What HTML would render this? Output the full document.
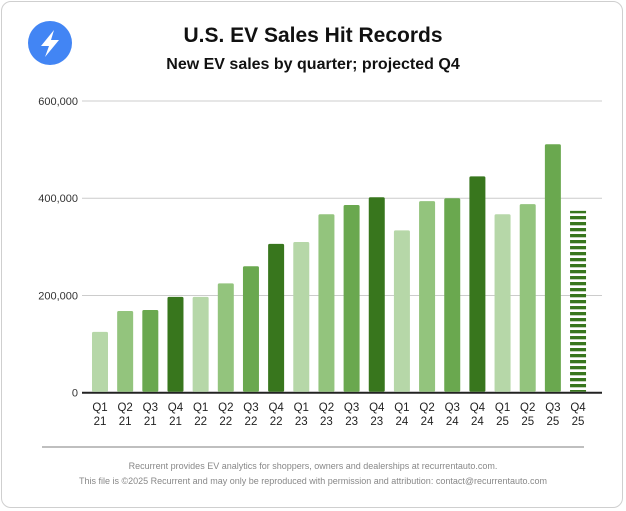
<!DOCTYPE html>
<html><head><meta charset="utf-8"><style>
body{margin:0;background:#fff;font-family:"Liberation Sans",sans-serif}
#card{position:absolute;left:1px;top:1px;width:622px;height:507px;border:1px solid #cfcfcf;border-radius:10px;box-sizing:border-box}
</style></head><body>
<div id="card"></div>
<svg id="chart" width="626" height="511" style="position:absolute;left:0;top:0">
<defs><pattern id="stripes" width="6" height="6" patternUnits="userSpaceOnUse"><rect width="6" height="6" fill="#fff"/><rect width="6" height="3.3" fill="#38761d"/></pattern></defs>
<circle cx="50" cy="43" r="22" fill="#4285f4"/>
<path d="M54 30 L41 46 L49 46 L45 57 L59 40 L51 40 Z" fill="#fff"/>
<text x="313" y="42" text-anchor="middle" font-size="21" font-weight="bold" fill="#111">U.S. EV Sales Hit Records</text>
<text x="313" y="69" text-anchor="middle" font-size="16" font-weight="bold" fill="#111">New EV sales by quarter; projected Q4</text>
<g id="grid"></g><g id="bars"></g><g id="xlabels"></g>
<line x1="42" y1="447" x2="584" y2="447" stroke="#aaa" stroke-width="1.5"/>
<text x="313" y="469" text-anchor="middle" font-size="9" fill="#888">Recurrent provides EV analytics for shoppers, owners and dealerships at recurrentauto.com.</text>
<text x="313" y="484" text-anchor="middle" font-size="9" fill="#888">This file is ©2025 Recurrent and may only be reproduced with permission and attribution: contact@recurrentauto.com</text>
</svg>
<script>
const quarters=["Q1","Q2","Q3","Q4","Q1","Q2","Q3","Q4","Q1","Q2","Q3","Q4","Q1","Q2","Q3","Q4","Q1","Q2","Q3","Q4"];
const years=["21","21","21","21","22","22","22","22","23","23","23","23","24","24","24","24","25","25","25","25"];
const sales=[125000,168000,170000,197000,197000,225000,260000,306000,310000,367000,386000,402000,334000,394000,400000,445000,367000,388000,511000,374000];
const projected=[false,false,false,false,false,false,false,false,false,false,false,false,false,false,false,false,false,false,false,true];
const yTicks=[0,200000,400000,600000];
const yTickLabels=["0","200,000","400,000","600,000"];
const colors=["#b6d7a8","#93c47d","#6aa84f","#38761d"];
const NS="http://www.w3.org/2000/svg";
const y0=392.7,pxPer=(392.7-101)/600000;
function yScale(v){return y0-v*pxPer;}
function xScale(i){return 92+i*25.16;}
const grid=document.getElementById('grid'),bars=document.getElementById('bars'),xl=document.getElementById('xlabels');
yTicks.forEach((t,i)=>{
 const l=document.createElementNS(NS,'line');
 l.setAttribute('x1',82);l.setAttribute('x2',602);l.setAttribute('y1',yScale(t));l.setAttribute('y2',yScale(t));
 l.setAttribute('stroke',t===0?'#222':'#ccc');l.setAttribute('stroke-width',t===0?2:1);
 
 
 grid.appendChild(l);
 const tx=document.createElementNS(NS,'text');
 tx.setAttribute('x',78);tx.setAttribute('y',yScale(t)+4);tx.setAttribute('text-anchor','end');tx.setAttribute('font-size','11');tx.setAttribute('fill','#333');
 tx.textContent=yTickLabels[i];
 
 
 grid.appendChild(tx);
});
sales.forEach((v,i)=>{
 const r=document.createElementNS(NS,'rect');
 const top=yScale(v);
 r.setAttribute('x',xScale(i));r.setAttribute('width',16);r.setAttribute('y',top);r.setAttribute('height',y0-1-top);
 r.setAttribute('rx',projected[i]?0:1.5);
 r.setAttribute('fill',projected[i]?'url(#stripes)':colors[i%4]);
 
 
 bars.appendChild(r);
 [quarters[i],years[i]].forEach((s,k)=>{
  const t=document.createElementNS(NS,'text');
  t.setAttribute('x',xScale(i)+8);t.setAttribute('y',411+k*14);t.setAttribute('text-anchor','middle');t.setAttribute('font-size','11.5');t.setAttribute('fill','#222');
  t.textContent=s;
  
  
  xl.appendChild(t);
 });
});
</script>
</body></html>
